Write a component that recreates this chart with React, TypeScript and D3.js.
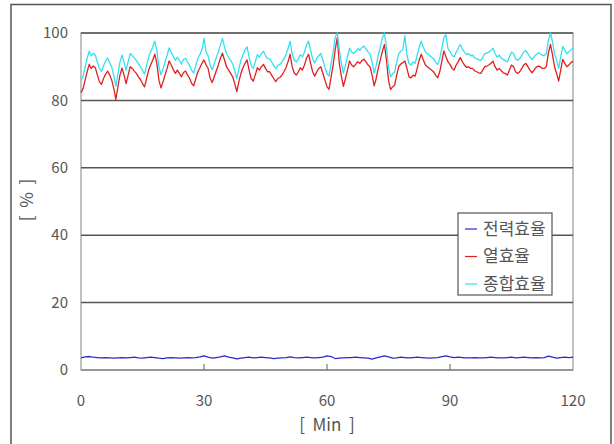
import React from 'react';
import * as d3 from 'd3';

// time axis (minutes) for the heat / total series, sampled every 0.5 min
const halfMinutes: number[] = d3.range(0, 120.5, 0.5);
// time axis for power efficiency, sampled every minute
const wholeMinutes: number[] = d3.range(0, 121, 1);

// 열효율 (heat efficiency) [%]
const heatEff: number[] = [
  82.3, 83.5, 86, 88.5, 90.7, 89.5, 90.2, 89.7, 87.5, 85.5,
  84.8, 86.5, 87.8, 88.7, 87.5, 86, 83.5, 80.3, 84, 87.5,
  89.6, 87.5, 85, 87.5, 90, 89.5, 88.7, 88, 87, 86.2,
  85, 84, 86.5, 89, 90.6, 92, 93.7, 91, 86, 83.7,
  85.5, 87.5, 89.5, 91.7, 90.5, 89.2, 88, 89, 88, 87,
  88.3, 88.7, 87.5, 86.5, 85, 84.3, 86.5, 88.5, 89.7, 91,
  92, 90.5, 89.5, 86.5, 85.3, 87, 88.8, 90.5, 92.5, 94,
  92, 90, 89, 88, 87, 85, 82.6, 85.5, 88, 89.7,
  91, 92, 89, 86.5, 85.7, 87.5, 89.7, 89, 90, 90.7,
  89.5, 88.5, 88.5, 87.5, 86.5, 85.6, 86.5, 86.8, 87.5, 88.5,
  89.7, 91.5, 93.7, 90, 88.2, 87.5, 88.5, 89.7, 89, 90.5,
  92.5, 93.7, 91, 88.5, 87.2, 88.5, 89.5, 90, 88, 86,
  84, 83.3, 87, 90.5, 95, 98.6, 91, 87.2, 84.2, 86.5,
  89, 91.7, 90.5, 90, 90.7, 91.5, 91, 91.8, 92.2, 91.5,
  90.5, 90, 87.5, 84.3, 86.5, 89.5, 92, 94.5, 96.6, 92,
  86, 83.2, 84, 84.5, 87.5, 90, 90.8, 91.2, 91.7, 89.5,
  87, 86.7, 87.5, 87.2, 89.5, 92, 93.7, 92, 90.5, 90,
  89.5, 89, 88.5, 87.5, 86.7, 88.5, 91.5, 94.7, 93, 91.5,
  90.7, 89.5, 89, 90.5, 91.5, 92.7, 91.5, 90.5, 89.8, 90,
  89.5, 89.5, 88.8, 88.5, 88.2, 88, 89, 90, 90.2, 90.5,
  91, 91.6, 90, 89, 89.5, 88.8, 88.2, 88, 87.5, 89,
  90.5, 90, 88.5, 88, 88.5, 89.5, 90.5, 91, 90, 89,
  88.2, 89, 89.8, 90.2, 90, 89.5, 89.5, 90, 94, 96.6,
  93.5, 90, 88, 85.7, 89, 92.2, 91, 90, 90.5, 91.2,
  91.6,
];

// 종합효율 (total efficiency) [%]
const totalEff: number[] = [
  86.0, 87.2, 89.8, 92.5, 94.6, 93.2, 94.0, 93.4, 91.3, 89.4,
  88.6, 90.3, 91.7, 92.6, 91.2, 89.9, 87.3, 84.2, 87.9, 91.4,
  93.5, 91.3, 88.9, 91.5, 93.9, 93.3, 92.6, 91.8, 90.9, 90.0,
  88.9, 87.8, 90.4, 92.9, 94.5, 95.9, 97.6, 94.8, 89.9, 87.6,
  89.3, 91.4, 93.4, 95.6, 94.3, 93.1, 91.9, 92.8, 91.9, 90.8,
  92.2, 92.5, 91.4, 90.3, 88.9, 88.1, 90.4, 92.4, 93.6, 95.0,
  98.4, 94.4, 93.3, 90.4, 89.1, 90.9, 92.7, 94.4, 96.4, 98.4,
  95.9, 93.9, 92.8, 91.9, 90.8, 88.9, 86.4, 89.4, 91.9, 93.5,
  94.9, 95.9, 92.9, 90.3, 89.5, 91.4, 93.6, 92.8, 93.9, 94.6,
  93.3, 92.4, 92.3, 91.4, 90.3, 89.4, 90.4, 90.6, 91.4, 92.3,
  93.6, 95.4, 97.6, 93.9, 92.0, 91.4, 92.3, 93.6, 92.9, 94.3,
  96.4, 97.6, 94.9, 92.3, 91.1, 92.4, 93.3, 93.9, 91.9, 89.8,
  87.9, 87.2, 90.9, 94.4, 98.8, 100, 94.9, 91.0, 88.1, 90.4,
  92.9, 95.5, 94.4, 93.9, 94.5, 95.4, 94.8, 95.7, 96.1, 95.3,
  94.4, 93.8, 91.4, 88.1, 90.3, 93.4, 95.9, 98.4, 100, 95.8,
  89.7, 87.0, 87.9, 88.4, 91.4, 93.9, 94.6, 95.1, 99.2, 93.4,
  90.9, 90.5, 91.4, 91.0, 93.4, 95.9, 97.6, 95.8, 94.4, 93.8,
  93.4, 92.8, 92.4, 91.3, 90.6, 92.4, 95.4, 98.6, 99.5, 95.4,
  94.5, 93.4, 92.9, 94.3, 95.4, 96.6, 95.3, 94.4, 93.6, 93.9,
  93.3, 93.4, 92.6, 92.4, 92.0, 91.9, 92.8, 93.9, 94.0, 94.4,
  94.8, 95.5, 93.9, 92.8, 93.4, 92.6, 92.1, 91.8, 91.4, 92.9,
  94.3, 93.9, 92.3, 91.9, 92.4, 93.3, 94.4, 94.8, 93.9, 92.8,
  92.1, 92.9, 93.6, 94.1, 93.8, 93.4, 93.3, 93.9, 97.8, 100,
  97.4, 93.8, 91.9, 89.5, 92.9, 96.0, 94.9, 93.8, 94.4, 95.0,
  95.5,
];

// 전력효율 (power efficiency) [%]
const powerEff: number[] = [
  3.6, 3.9, 4.0, 3.8, 3.7, 3.6, 3.7, 3.6, 3.5, 3.6,
  3.7, 3.6, 3.7, 3.8, 3.6, 3.5, 3.7, 3.8, 3.7, 3.5,
  3.4, 3.6, 3.7, 3.6, 3.5, 3.6, 3.7, 3.6, 3.7, 3.9,
  4.2, 3.8, 3.5, 3.7, 3.9, 4.2, 3.8, 3.6, 3.3, 3.5,
  3.7, 3.8, 3.6, 3.7, 3.8, 3.7, 3.6, 3.4, 3.5, 3.6,
  3.7, 3.9, 3.7, 3.6, 3.7, 3.8, 3.7, 3.6, 3.7, 3.8,
  4.2, 4.0, 3.4, 3.5, 3.6, 3.7, 3.7, 3.8, 3.7, 3.6,
  3.5, 3.2, 3.6, 3.9, 4.2, 3.9, 3.5, 3.6, 3.8, 3.7,
  3.6, 3.7, 3.8, 3.7, 3.6, 3.5, 3.6, 3.7, 4.0, 4.2,
  3.9, 3.7, 3.8, 3.7, 3.6, 3.6, 3.7, 3.6, 3.6, 3.7,
  3.8, 3.7, 3.6, 3.6, 3.7, 3.8, 3.6, 3.7, 3.8, 3.7,
  3.6, 3.7, 3.6, 3.7, 4.1, 3.8, 3.5, 3.7, 3.8, 3.7,
  3.8,
];

const xTicks: number[] = [0, 30, 60, 90, 120];
const yTicks: number[] = [0, 20, 40, 60, 80, 100];
const legendItems: { label: string; color: string }[] = [
  { label: '전력효율', color: '#2a2ac8' },
  { label: '열효율', color: '#e02020' },
  { label: '종합효율', color: '#33e0f0' },
];

const W = 614;
const H = 444;
const left = 81;
const right = 573;
const top = 33;
const bottom = 370;
const font = '"Noto Sans CJK KR", "Noto Sans", sans-serif';

const App: React.FC = () => {
  const x = d3.scaleLinear().domain([0, 120]).range([left, right]);
  const y = d3.scaleLinear().domain([0, 100]).range([bottom, top]);

  const line = d3
    .line<[number, number]>()
    .x(d => x(d[0]))
    .y(d => y(d[1]));

  const heatPath = line(halfMinutes.map((m, i) => [m, heatEff[i]] as [number, number])) || '';
  const totalPath = line(halfMinutes.map((m, i) => [m, totalEff[i]] as [number, number])) || '';
  const powerPath = line(wholeMinutes.map((m, i) => [m, powerEff[i]] as [number, number])) || '';

  return (
    <svg
      width={W}
      height={H}
      style={{ position: 'absolute', left: 0, top: 0, background: '#fff', display: 'block' }}
      fontFamily={font}
    >
      {/* outer frame */}
      <rect x={11} y={4.5} width={600} height={460} fill="none" stroke="#555" strokeWidth={1.5} />

      {/* plot frame */}
      <rect x={left} y={top} width={right - left} height={bottom - top} fill="none" stroke="#999" strokeWidth={1.2} />

      {/* horizontal gridlines */}
      {yTicks.filter(t => t > 0).map(t => (
        <line key={t} x1={left} x2={right} y1={y(t)} y2={y(t)} stroke="#555" strokeWidth={1.5} />
      ))}

      {/* bottom axis */}
      <line x1={left} x2={right} y1={bottom} y2={bottom} stroke="#888" strokeWidth={1.5} />
      {xTicks.slice(1, -1).map(t => (
        <line key={t} x1={x(t)} x2={x(t)} y1={bottom} y2={bottom - 6} stroke="#777" strokeWidth={1.2} />
      ))}

      {/* series */}
      <path d={heatPath} fill="none" stroke="#e02020" strokeWidth={1.3} strokeLinejoin="round" />
      <path d={totalPath} fill="none" stroke="#33e0f0" strokeWidth={1.3} strokeLinejoin="round" />
      <path d={powerPath} fill="none" stroke="#2a2ac8" strokeWidth={1.3} strokeLinejoin="round" />

      {/* y tick labels */}
      {yTicks.map(t => (
        <text key={t} x={68} y={y(t)} dy="0.35em" textAnchor="end" fontSize={15} fill="#555">
          {t}
        </text>
      ))}

      {/* x tick labels */}
      {xTicks.map(t => (
        <text key={t} x={x(t)} y={406} textAnchor="middle" fontSize={15} fill="#555">
          {t}
        </text>
      ))}

      {/* axis titles */}
      <text x={327} y={431} textAnchor="middle" fontSize={17} fill="#555" xmlSpace="preserve">
        [  Min  ]
      </text>
      <text
        transform="translate(27,200) rotate(-90)"
        textAnchor="middle"
        dy="0.35em"
        fontSize={17}
        fill="#555"
        xmlSpace="preserve"
      >
        [  %  ]
      </text>

      {/* legend */}
      <rect x={458} y={213} width={94} height={82} fill="#fff" stroke="#555" strokeWidth={1.2} />
      {legendItems.map((item, i) => {
        const cy = 229 + i * 27.5;
        return (
          <g key={item.label}>
            <line x1={465} x2={477} y1={cy} y2={cy} stroke={item.color} strokeWidth={1.2} />
            <text x={483} y={cy} dy="0.35em" fontSize={17} fill="#555">
              {item.label}
            </text>
          </g>
        );
      })}
    </svg>
  );
};

export default App;
